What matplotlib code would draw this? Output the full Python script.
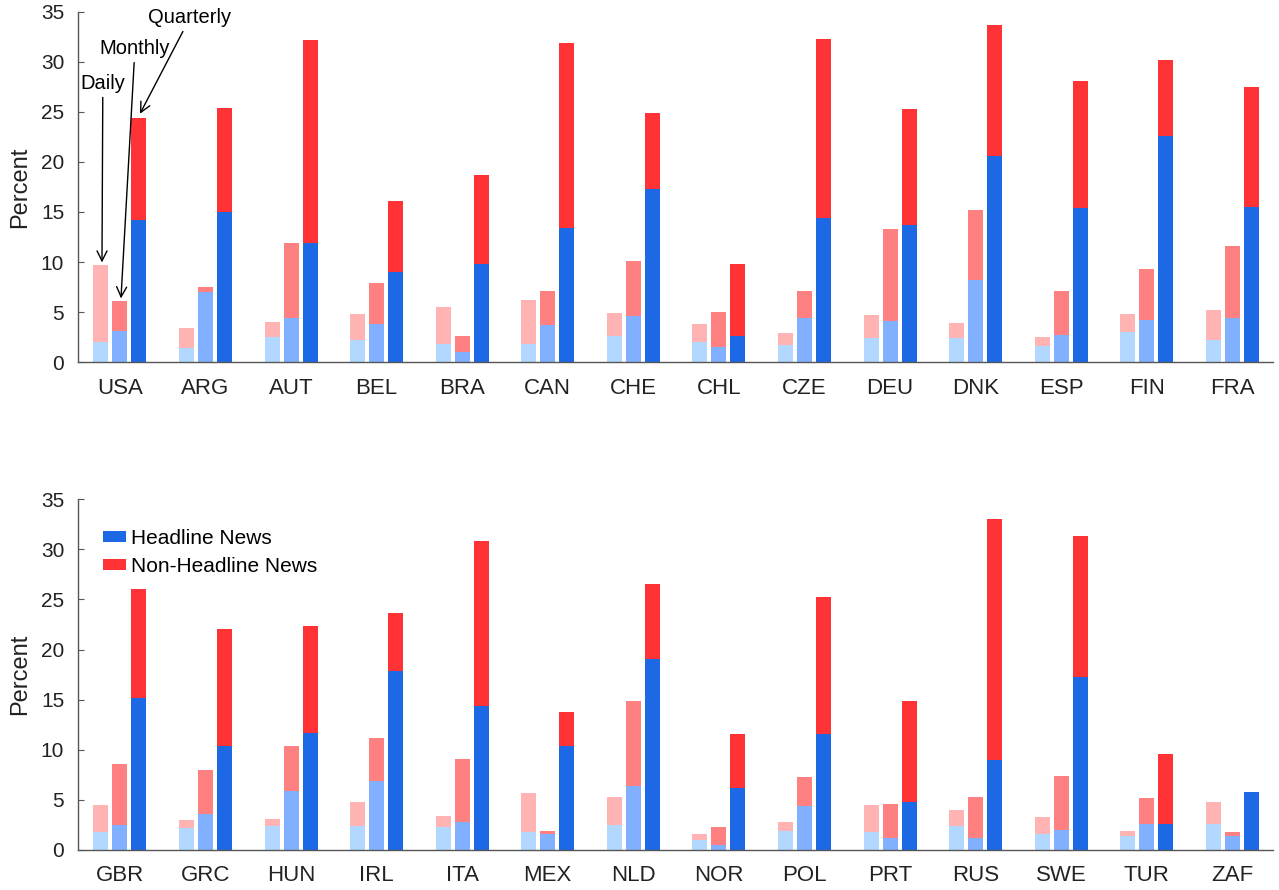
import matplotlib
matplotlib.use("Agg")
import matplotlib.pyplot as plt
import numpy as np
from matplotlib.patches import Patch

plt.rcParams['font.family'] = ['Liberation Sans', 'DejaVu Sans']

# Share of variance explained, by horizon, split into headline / non-headline news
countries_top = ["USA", "ARG", "AUT", "BEL", "BRA", "CAN", "CHE",
                 "CHL", "CZE", "DEU", "DNK", "ESP", "FIN", "FRA"]
countries_bot = ["GBR", "GRC", "HUN", "IRL", "ITA", "MEX", "NLD",
                 "NOR", "POL", "PRT", "RUS", "SWE", "TUR", "ZAF"]

# headline component and total (headline + non-headline)
daily_head_top = [2.03, 1.46, 2.56, 2.23, 1.83, 1.83, 2.59, 2.03, 1.69, 2.42, 2.42, 1.66, 3.06, 2.19]
daily_tot_top = [9.66, 3.45, 3.99, 4.82, 5.48, 6.24, 4.88, 3.79, 2.89, 4.72, 3.95, 2.49, 4.85, 5.25]
monthly_head_top = [3.12, 6.97, 4.42, 3.79, 1.03, 3.69, 4.62, 1.56, 4.42, 4.09, 8.24, 2.69, 4.25, 4.38]
monthly_tot_top = [6.08, 7.54, 11.92, 7.94, 2.66, 7.07, 10.06, 4.98, 7.14, 13.25, 15.24, 7.07, 9.27, 11.62]
quarterly_head_top = [14.15, 14.98, 11.92, 9.03, 9.76, 13.38, 17.34, 2.66, 14.41, 13.72, 20.56, 15.44, 22.58, 15.51]
quarterly_tot_top = [24.38, 25.41, 32.15, 16.14, 18.70, 31.85, 24.91, 9.83, 32.25, 25.27, 33.68, 28.06, 30.16, 27.50]

daily_head_bot = [1.83, 2.23, 2.37, 2.40, 2.27, 1.77, 2.53, 1.03, 1.87, 1.83, 2.37, 1.63, 1.37, 2.63]
daily_tot_bot = [4.50, 3.03, 3.10, 4.77, 3.43, 5.70, 5.30, 1.63, 2.77, 4.53, 4.03, 3.30, 1.90, 4.77]
monthly_head_bot = [2.53, 3.63, 5.90, 6.90, 2.83, 1.60, 6.37, 0.47, 4.40, 1.17, 1.23, 2.00, 2.57, 1.43]
monthly_tot_bot = [8.57, 7.97, 10.40, 11.13, 9.07, 1.93, 14.90, 2.30, 7.33, 4.60, 5.27, 7.40, 5.17, 1.83]
quarterly_head_bot = [15.20, 10.33, 11.67, 17.87, 14.37, 10.33, 19.03, 6.17, 11.53, 4.77, 8.97, 17.30, 2.57, 5.83]
quarterly_tot_bot = [26.03, 22.03, 22.33, 23.70, 30.80, 13.80, 26.53, 11.53, 25.27, 14.87, 33.07, 31.37, 9.53, 5.83]

horizons = ["Daily", "Monthly", "Quarterly"]
blue = ["#b3d8ff", "#80b0ff", "#1c68e5"]
red = ["#ffb3b3", "#ff8080", "#ff3236"]
offsets = [-0.222, 0.0, 0.222]
width = 0.175
text_color = "#222222"
spine_color = "#555555"

fig = plt.figure(figsize=(12.79, 8.9), dpi=100)
ax_top = fig.add_axes([0.061, 0.593, 0.934, 0.394])
ax_bot = fig.add_axes([0.061, 0.045, 0.934, 0.394])


def draw_panel(ax, names, heads, tots):
    x = np.arange(len(names))
    for k in range(3):
        h = np.array(heads[k])
        t = np.array(tots[k])
        ax.bar(x + offsets[k], h, width, color=blue[k], linewidth=0)
        ax.bar(x + offsets[k], t - h, width, bottom=h, color=red[k], linewidth=0)
    ax.set_xlim(-0.49, 13.47)
    ax.set_ylim(0, 35)
    ax.set_yticks(np.arange(0, 36, 5))
    ax.set_xticks(x)
    ax.set_xticklabels(names, fontsize=16, color=text_color)
    ax.tick_params(axis='x', length=0, pad=11)
    ax.tick_params(axis='y', direction='in', length=4, pad=10,
                   labelsize=15, labelcolor=text_color, color=spine_color)
    ax.set_ylabel("Percent", fontsize=17, color=text_color, labelpad=7)
    for s in ("top", "right"):
        ax.spines[s].set_visible(False)
    for s in ("left", "bottom"):
        ax.spines[s].set_color(spine_color)
        ax.spines[s].set_linewidth(1.0)


draw_panel(ax_top, countries_top,
           [daily_head_top, monthly_head_top, quarterly_head_top],
           [daily_tot_top, monthly_tot_top, quarterly_tot_top])
draw_panel(ax_bot, countries_bot,
           [daily_head_bot, monthly_head_bot, quarterly_head_bot],
           [daily_tot_bot, monthly_tot_bot, quarterly_tot_bot])

# Horizon labels pointing at the first country's bars
arrow = dict(arrowstyle='->', color='black', lw=1.0, mutation_scale=18,
             shrinkA=1, shrinkB=0)
ax_top.annotate("Daily", xy=(-0.21, 9.96), xytext=(-0.2, 27.8),
                ha='center', va='center', fontsize=14.5, color='black',
                arrowprops=arrow)
ax_top.annotate("Monthly", xy=(0.012, 6.37), xytext=(0.175, 31.27),
                ha='center', va='center', fontsize=14.5, color='black',
                arrowprops=arrow)
ax_top.annotate("Quarterly", xy=(0.234, 24.8), xytext=(0.818, 34.36),
                ha='center', va='center', fontsize=14.5, color='black',
                arrowprops=arrow, annotation_clip=False)

handles = [Patch(facecolor=blue[2], edgecolor='none'),
           Patch(facecolor=red[2], edgecolor='none')]
ax_bot.legend(handles, ["Headline News", "Non-Headline News"],
              loc='upper left', bbox_to_anchor=(0.021, 0.916),
              frameon=False, fontsize=15, borderpad=0, borderaxespad=0,
              handlelength=1.1, handleheight=0.4, handletextpad=0.25,
              labelspacing=0.45, labelcolor='black')

fig.savefig("out.png", dpi=100)
